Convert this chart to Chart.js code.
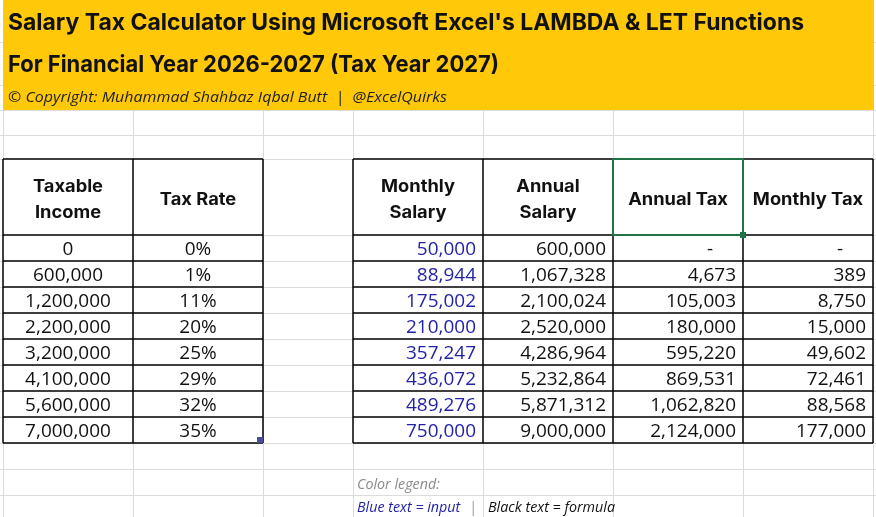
<!DOCTYPE html>
<html>
<head>
<meta charset="utf-8">
<script src="https://cdn.jsdelivr.net/npm/chart.js@4.4.1/dist/chart.umd.min.js"></script>
<style>
  html,body{margin:0;padding:0;background:#fff;}
  canvas{display:block;}
</style>
</head>
<body>
<canvas id="c" width="876" height="517"></canvas>
<script>
// ---------- DATA ----------
const titleLine1 = "Salary Tax Calculator Using Microsoft Excel's LAMBDA & LET Functions";
const titleLine2 = "For Financial Year 2026-2027 (Tax Year 2027)";
const copyrightLine = "\u00A9 Copyright: Muhammad Shahbaz Iqbal Butt  |  @ExcelQuirks";

const slabHeaders = [["Taxable", "Income"], ["Tax Rate"]];
const calcHeaders = [["Monthly", "Salary"], ["Annual", "Salary"], ["Annual Tax"], ["Monthly Tax"]];

const taxableIncome = [0, 600000, 1200000, 2200000, 3200000, 4100000, 5600000, 7000000];
const taxRate       = [0, 1, 11, 20, 25, 29, 32, 35];
const monthlySalary = [50000, 88944, 175002, 210000, 357247, 436072, 489276, 750000];
const annualSalary  = [600000, 1067328, 2100024, 2520000, 4286964, 5232864, 5871312, 9000000];
const annualTax     = [0, 4673, 105003, 180000, 595220, 869531, 1062820, 2124000];
const monthlyTax    = [0, 389, 8750, 15000, 49602, 72461, 88568, 177000];

const legendTitle = "Color legend:";
const legendInput = "Blue text = input";
const legendSep = "|";
const legendFormula = "Black text = formula";

// ---------- LAYOUT (sheet units) ----------
const SHEET_W = 876, SHEET_H = 517;
const colEdges = [3, 133, 263, 353, 483, 613, 743, 873];
const gridRowLines = [42, 85, 110, 135, 159, 235, 261, 287, 313, 339, 365, 391, 417, 443, 469, 495];
const BAND_BOTTOM = 110;
const TABLE_TOP = 159, HEADER_BOTTOM = 235, ROW_H = 26;
const PAD_R = 7;

const BLUE = "#2323a8";
const fmt = v => v.toLocaleString("en-US");
const fmtTax = v => v === 0 ? "-" : fmt(v);
const rowCenter = i => HEADER_BOTTOM + ROW_H * i + ROW_H / 2;
const colCenter = c => (colEdges[c] + colEdges[c + 1]) / 2;

// styles
const FONT_TITLE = 'bold 23px Inter';
const FONT_COPY = 'italic 15px "Open Sans"';
const FONT_HEAD = 'bold 17px Inter';
const FONT_BODY = '18px "Open Sans"';
const FONT_LEG = 'italic 14px "Open Sans"';

function cellPoints(values, anchorX) {
  return values.map((v, i) => ({ x: anchorX, y: rowCenter(i) }));
}

const datasets = [
  { label: "Taxable Income", data: cellPoints(taxableIncome, colCenter(0)), texts: taxableIncome.map(fmt), align: "center", color: "#111" },
  { label: "Tax Rate", data: cellPoints(taxRate, colCenter(1)), texts: taxRate.map(v => v + "%"), align: "center", color: "#111" },
  { label: "Monthly Salary", data: cellPoints(monthlySalary, colEdges[4] - PAD_R), texts: monthlySalary.map(fmt), align: "right", color: BLUE },
  { label: "Annual Salary", data: cellPoints(annualSalary, colEdges[5] - PAD_R), texts: annualSalary.map(fmt), align: "right", color: "#111" },
  { label: "Annual Tax", data: cellPoints(annualTax, colEdges[6] - PAD_R), texts: annualTax.map(fmtTax), align: "right", color: "#111", dashX: colEdges[6] - 33 },
  { label: "Monthly Tax", data: cellPoints(monthlyTax, colEdges[7] - PAD_R), texts: monthlyTax.map(fmtTax), align: "right", color: "#111", dashX: colEdges[7] - 33 }
].map(d => Object.assign(d, { pointRadius: 0, pointHoverRadius: 0, showLine: false }));

// ---------- helpers ----------
function capAscent(ctx, font) {
  ctx.font = font;
  return ctx.measureText("H").actualBoundingBoxAscent;
}
function scaleFor(ctx, font, ref, target) {
  ctx.font = font;
  return target / ctx.measureText(ref).width;
}
function drawText(ctx, text, x, yCenter, align, font, sx, color) {
  ctx.save();
  ctx.font = font;
  const a = capAscent(ctx, font);
  ctx.translate(x, yCenter + a / 2);
  ctx.scale(sx, 1);
  ctx.textAlign = align;
  ctx.textBaseline = "alphabetic";
  ctx.fillStyle = color;
  ctx.fillText(text, 0, 0);
  ctx.restore();
}

const sheetPlugin = {
  id: "sheet",
  beforeDatasetsDraw(chart) {
    const ctx = chart.ctx, xs = chart.scales.x, ys = chart.scales.y;
    const X = v => xs.getPixelForValue(v), Y = v => ys.getPixelForValue(v);
    ctx.save();
    ctx.fillStyle = "#fff";
    ctx.fillRect(X(0), Y(0), X(SHEET_W) - X(0), Y(SHEET_H) - Y(0));
    // grid
    ctx.strokeStyle = "#dcdcdc";
    ctx.lineWidth = 1;
    ctx.beginPath();
    colEdges.forEach(c => { ctx.moveTo(Math.round(X(c)) + 0.5, Y(0)); ctx.lineTo(Math.round(X(c)) + 0.5, Y(SHEET_H)); });
    gridRowLines.forEach(r => { ctx.moveTo(X(0), Math.round(Y(r)) + 0.5); ctx.lineTo(X(SHEET_W), Math.round(Y(r)) + 0.5); });
    ctx.stroke();
    // yellow band
    ctx.fillStyle = "#FFC909";
    ctx.fillRect(X(colEdges[0]), Y(0), X(colEdges[7]) - X(colEdges[0]) + 1, Y(BAND_BOTTOM) - Y(0));
    // titles
    drawText(ctx, titleLine1, X(8), Y(21), "left", FONT_TITLE, scaleFor(ctx, FONT_TITLE, titleLine1, 796), "#111");
    drawText(ctx, titleLine2, X(8), Y(63.5), "left", FONT_TITLE, scaleFor(ctx, FONT_TITLE, titleLine2, 491), "#111");
    drawText(ctx, copyrightLine, X(8), Y(96.5), "left", FONT_COPY, scaleFor(ctx, FONT_COPY, copyrightLine, 439), "#222");

    // white table cells
    ctx.fillStyle = "#fff";
    const rowsBottom = HEADER_BOTTOM + ROW_H * taxableIncome.length;
    ctx.fillRect(X(colEdges[0]), Y(TABLE_TOP), X(colEdges[2]) - X(colEdges[0]), Y(rowsBottom) - Y(TABLE_TOP));
    ctx.fillRect(X(colEdges[3]), Y(TABLE_TOP), X(colEdges[7]) - X(colEdges[3]), Y(rowsBottom) - Y(TABLE_TOP));

    // black borders
    ctx.strokeStyle = "#000";
    ctx.lineWidth = 1.5;
    ctx.beginPath();
    const hLines = [TABLE_TOP, HEADER_BOTTOM];
    for (let i = 1; i <= taxableIncome.length; i++) hLines.push(HEADER_BOTTOM + ROW_H * i);
    [[0, 2], [3, 7]].forEach(([a, b]) => {
      hLines.forEach(r => { ctx.moveTo(X(colEdges[a]), Y(r)); ctx.lineTo(X(colEdges[b]), Y(r)); });
      for (let c = a; c <= b; c++) { ctx.moveTo(X(colEdges[c]), Y(TABLE_TOP)); ctx.lineTo(X(colEdges[c]), Y(rowsBottom)); }
    });
    ctx.stroke();

    // headers
    const sxH = scaleFor(ctx, FONT_HEAD, "Taxable", 70);
    const headCenter = (TABLE_TOP + HEADER_BOTTOM) / 2 + 1;
    const drawHead = (lines, c) => {
      if (lines.length === 1) drawText(ctx, lines[0], X(colCenter(c)), Y(headCenter), "center", FONT_HEAD, sxH, "#111");
      else {
        drawText(ctx, lines[0], X(colCenter(c)), Y(headCenter - 13), "center", FONT_HEAD, sxH, "#111");
        drawText(ctx, lines[1], X(colCenter(c)), Y(headCenter + 13.5), "center", FONT_HEAD, sxH, "#111");
      }
    };
    slabHeaders.forEach((h, i) => drawHead(h, i));
    calcHeaders.forEach((h, i) => drawHead(h, i + 3));

    // selection box on "Annual Tax" header
    ctx.strokeStyle = "#217346";
    ctx.lineWidth = 2;
    ctx.strokeRect(X(colEdges[5]), Y(TABLE_TOP), X(colEdges[6]) - X(colEdges[5]), Y(HEADER_BOTTOM) - Y(TABLE_TOP));
    ctx.fillStyle = "#217346";
    ctx.fillRect(X(colEdges[6]) - 3, Y(HEADER_BOTTOM) - 3, 6, 6);
    // small fill handle mark at bottom of tax-rate column
    ctx.fillStyle = "#4b4b9c";
    ctx.fillRect(X(colEdges[2]) - 6, Y(rowsBottom) - 6, 6, 6);

    // legend
    const sxL = scaleFor(ctx, FONT_LEG, legendFormula, 127);
    drawText(ctx, legendTitle, X(357), Y(484), "left", FONT_LEG, sxL, "#8a8a8a");
    drawText(ctx, legendInput, X(357), Y(507), "left", FONT_LEG, sxL, BLUE);
    drawText(ctx, legendSep, X(473), Y(507), "center", FONT_LEG, sxL, "#999");
    drawText(ctx, legendFormula, X(488), Y(507), "left", FONT_LEG, sxL, "#111");
    ctx.restore();
  },
  afterDatasetsDraw(chart) {
    const ctx = chart.ctx, xs = chart.scales.x;
    const sxB = scaleFor(ctx, FONT_BODY, "600,000", 70);
    chart.data.datasets.forEach((ds, i) => {
      const meta = chart.getDatasetMeta(i);
      meta.data.forEach((pt, j) => {
        const t = ds.texts[j];
        if (t === "-" && ds.dashX) drawText(ctx, t, xs.getPixelForValue(ds.dashX), pt.y, "center", FONT_BODY, sxB, ds.color);
        else drawText(ctx, t, pt.x, pt.y, ds.align, FONT_BODY, sxB, ds.color);
      });
    });
  }
};

new Chart(document.getElementById("c"), {
  type: "scatter",
  data: { datasets },
  options: {
    responsive: false,
    animation: false,
    devicePixelRatio: 1,
    layout: { padding: 0 },
    events: [],
    plugins: { legend: { display: false }, tooltip: { enabled: false } },
    scales: {
      x: { type: "linear", min: 0, max: SHEET_W, display: false },
      y: { type: "linear", min: 0, max: SHEET_H, reverse: true, display: false }
    }
  },
  plugins: [sheetPlugin]
});
</script>
</body>
</html>
